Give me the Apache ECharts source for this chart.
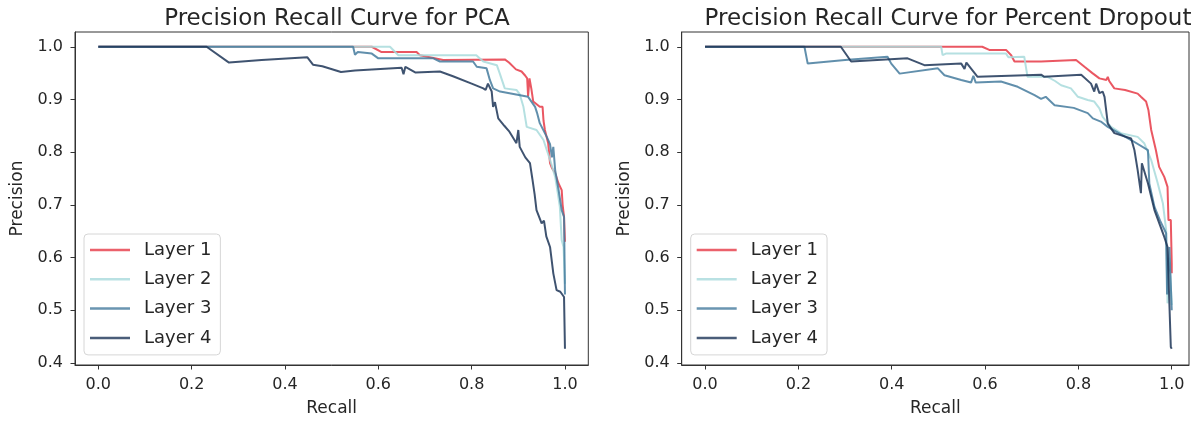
<!DOCTYPE html>
<html>
<head>
<meta charset="utf-8">
<script src="https://cdn.jsdelivr.net/npm/echarts@6.0.0/dist/echarts.min.js"></script>
<style>
  html, body { margin: 0; padding: 0; background: #fff; }
  #chart { width: 1191px; height: 423px; }
</style>
</head>
<body>
<div id="chart"></div>
<script>
  // [recall, precision] pairs
  var pcaLayer1 = [[0, 1], [0.586, 1], [0.607, 0.99], [0.682, 0.99], [0.689, 0.984], [0.70, 0.982], [0.739, 0.975],
    [0.871, 0.976], [0.88, 0.97], [0.895, 0.957], [0.907, 0.953], [0.915, 0.945], [0.919, 0.94], [0.921, 0.906],
    [0.924, 0.94], [0.928, 0.92], [0.932, 0.896], [0.946, 0.886], [0.952, 0.886], [0.954, 0.86], [0.957, 0.842],
    [0.964, 0.817], [0.968, 0.779], [0.972, 0.77], [0.979, 0.76], [0.986, 0.741], [0.993, 0.728], [0.995, 0.70],
    [0.998, 0.677], [1.0, 0.63]
  ]
  var pcaLayer2 = [[0, 1], [0.625, 1], [0.643, 0.984], [0.81, 0.984], [0.825, 0.972], [0.854, 0.965], [0.86, 0.95],
    [0.871, 0.921], [0.896, 0.918], [0.903, 0.91], [0.911, 0.886], [0.918, 0.848], [0.939, 0.842], [0.954, 0.823],
    [0.961, 0.804], [0.97, 0.78], [0.979, 0.753], [0.985, 0.72], [0.989, 0.696], [0.993, 0.633], [0.997, 0.62],
    [1.0, 0.55]
  ]
  var pcaLayer3 = [[0, 1], [0.546, 1], [0.55, 0.985], [0.556, 0.99], [0.586, 0.987], [0.6, 0.978], [0.718, 0.978],
    [0.732, 0.972], [0.803, 0.972], [0.811, 0.962], [0.832, 0.959], [0.839, 0.937], [0.846, 0.921], [0.861, 0.915],
    [0.904, 0.908], [0.921, 0.905], [0.936, 0.886], [0.94, 0.875], [0.946, 0.855], [0.961, 0.829], [0.968, 0.815],
    [0.972, 0.79], [0.975, 0.81], [0.979, 0.766], [0.986, 0.73], [0.993, 0.69], [0.998, 0.677], [1.0, 0.53]
  ]
  var pcaLayer4 = [[0, 1], [0.232, 1], [0.28, 0.97], [0.35, 0.975], [0.448, 0.98], [0.46, 0.966], [0.48, 0.963],
    [0.52, 0.952], [0.55, 0.955], [0.65, 0.96], [0.654, 0.948], [0.658, 0.962], [0.68, 0.951], [0.732, 0.953],
    [0.76, 0.944], [0.8, 0.93], [0.825, 0.921], [0.83, 0.918], [0.835, 0.93], [0.843, 0.915], [0.846, 0.886],
    [0.85, 0.895], [0.857, 0.864], [0.87, 0.85], [0.88, 0.84], [0.896, 0.817], [0.9, 0.842], [0.903, 0.81],
    [0.915, 0.79], [0.925, 0.779], [0.93, 0.75], [0.935, 0.72], [0.939, 0.69], [0.95, 0.665], [0.955, 0.67],
    [0.96, 0.64], [0.968, 0.62], [0.975, 0.57], [0.982, 0.538], [0.99, 0.535], [0.998, 0.525], [1.0, 0.427]
  ]
  var dropLayer1 = [[0, 1], [0.594, 1], [0.609, 0.994], [0.645, 0.994], [0.656, 0.984], [0.663, 0.972], [0.72, 0.972],
    [0.795, 0.975], [0.813, 0.962], [0.83, 0.95], [0.845, 0.94], [0.86, 0.937], [0.863, 0.943], [0.866, 0.935],
    [0.877, 0.921], [0.9, 0.918], [0.927, 0.911], [0.934, 0.905], [0.945, 0.896], [0.95, 0.88], [0.956, 0.842],
    [0.966, 0.804], [0.973, 0.772], [0.984, 0.753], [0.991, 0.734], [0.993, 0.671], [0.998, 0.671], [1.0, 0.589],
    [1.0, 0.57]
  ]
  var dropLayer2 = [[0, 1], [0.506, 1], [0.509, 0.984], [0.516, 0.987], [0.645, 0.987], [0.65, 0.98], [0.684, 0.981],
    [0.691, 0.943], [0.734, 0.943], [0.75, 0.935], [0.763, 0.927], [0.784, 0.921], [0.799, 0.905], [0.82, 0.899],
    [0.834, 0.896], [0.845, 0.883], [0.852, 0.867], [0.87, 0.848], [0.891, 0.836], [0.927, 0.829], [0.941, 0.817],
    [0.956, 0.785], [0.97, 0.741], [0.981, 0.703], [0.988, 0.652], [0.991, 0.513], [0.995, 0.6], [1.0, 0.51]
  ]
  var dropLayer3 = [[0, 1], [0.213, 1], [0.22, 0.968], [0.3, 0.975], [0.391, 0.981], [0.399, 0.968], [0.417, 0.949],
    [0.499, 0.959], [0.513, 0.946], [0.549, 0.937], [0.57, 0.932], [0.575, 0.945], [0.58, 0.932], [0.634, 0.934],
    [0.67, 0.924], [0.706, 0.908], [0.72, 0.901], [0.73, 0.905], [0.749, 0.889], [0.79, 0.884], [0.82, 0.874],
    [0.831, 0.864], [0.848, 0.858], [0.863, 0.848], [0.881, 0.839], [0.913, 0.823], [0.949, 0.804], [0.952, 0.74],
    [0.963, 0.696], [0.975, 0.67], [0.988, 0.646], [0.99, 0.53], [0.995, 0.62], [1.0, 0.5]
  ]
  var dropLayer4 = [[0, 1], [0.291, 1], [0.313, 0.972], [0.434, 0.978], [0.47, 0.965], [0.549, 0.968], [0.556, 0.958],
    [0.56, 0.97], [0.584, 0.943], [0.72, 0.947], [0.727, 0.943], [0.806, 0.947], [0.827, 0.93], [0.834, 0.915],
    [0.838, 0.93], [0.845, 0.912], [0.852, 0.915], [0.856, 0.905], [0.863, 0.854], [0.877, 0.836], [0.913, 0.826],
    [0.92, 0.804], [0.927, 0.766], [0.934, 0.722], [0.936, 0.779], [0.949, 0.741], [0.963, 0.69], [0.984, 0.639],
    [0.991, 0.62], [0.998, 0.43], [1.0, 0.427]
  ]

  var layerNames = ['Layer 1', 'Layer 2', 'Layer 3', 'Layer 4']
  var layerColors = ['#e63946', '#a8dadc', '#457b9d', '#1d3557']
  var xTicks = [0, 0.2, 0.4, 0.6, 0.8, 1.0]
  var yTicks = [0.4, 0.5, 0.6, 0.7, 0.8, 0.9, 1.0]
  var titles = ['Precision Recall Curve for PCA', 'Precision Recall Curve for Percent Dropout']

  var font = 'DejaVu Sans'
  var ink = '#262626'

  function xAxisFor(idx, max) {
    return {
      type: 'value',
      gridIndex: idx,
      min: -0.05,
      max: max,
      name: 'Recall',
      nameLocation: 'middle',
      nameGap: 35,
      nameTextStyle: { fontFamily: font, fontSize: 17, color: ink },
      axisLine: { show: true, onZero: false, lineStyle: { color: '#333', width: 1 } },
      axisTick: { show: true, length: 4.5, customValues: xTicks, lineStyle: { color: '#333' } },
      axisLabel: {
        margin: 12, fontFamily: font, fontSize: 16, color: ink,
        customValues: xTicks,
        formatter: function (v) { return v.toFixed(1) }
      },
      splitLine: { show: false }
    }
  }

  function yAxisFor(idx) {
    return {
      type: 'value',
      gridIndex: idx,
      min: 0.396,
      max: 1.028,
      name: 'Precision',
      nameLocation: 'middle',
      nameGap: 49,
      nameTextStyle: { fontFamily: font, fontSize: 17, color: ink },
      axisLine: { show: true, onZero: false, lineStyle: { color: '#333', width: 1 } },
      axisTick: { show: true, length: 4.5, customValues: yTicks, lineStyle: { color: '#333' } },
      axisLabel: {
        margin: 12, fontFamily: font, fontSize: 16, color: ink,
        customValues: yTicks,
        formatter: function (v) { return v.toFixed(1) }
      },
      splitLine: { show: false }
    }
  }

  function legendFor(left) {
    return {
      orient: 'vertical',
      left: left,
      top: 234,
      data: layerNames,
      icon: 'rect',
      itemWidth: 40,
      itemHeight: 2.5,
      itemGap: 11.3,
      padding: [7, 9, 8, 6],
      backgroundColor: 'rgba(255,255,255,0.8)',
      borderColor: '#d6d6d6',
      borderWidth: 1,
      borderRadius: 4,
      itemStyle: { opacity: 0.8 },
      textStyle: { fontFamily: font, fontSize: 18, color: ink, padding: [0, 0, 0, 9] },
      selectedMode: false
    }
  }

  var seriesData = [
    [pcaLayer1, pcaLayer2, pcaLayer3, pcaLayer4],
    [dropLayer1, dropLayer2, dropLayer3, dropLayer4]
  ]
  var series = []
  seriesData.forEach(function (group, g) {
    group.forEach(function (d, i) {
      series.push({
        name: layerNames[i],
        type: 'line',
        xAxisIndex: g,
        yAxisIndex: g,
        data: d,
        showSymbol: false,
        symbol: 'none',
        z: 2 + i,
        lineStyle: { color: layerColors[i], width: 2, opacity: 0.85 },
        itemStyle: { color: layerColors[i] }
      })
    })
  })

  var chart = echarts.init(document.getElementById('chart'))
  chart.setOption({
    animation: false,
    backgroundColor: '#fff',
    title: [
      { text: titles[0], left: 332, top: 3, textAlign: 'center',
        textStyle: { fontFamily: font, fontSize: 23, fontWeight: 'normal', color: ink } },
      { text: titles[1], left: 943, top: 3, textAlign: 'center',
        textStyle: { fontFamily: font, fontSize: 23, fontWeight: 'normal', color: ink } }
    ],
    legend: [legendFor(84), legendFor(690.7)],
    grid: [
      { left: 75, top: 32, width: 513.3, height: 333, show: true, borderColor: '#333', borderWidth: 1 },
      { left: 681.7, top: 32, width: 507.3, height: 333, show: true, borderColor: '#333', borderWidth: 1 }
    ],
    xAxis: [xAxisFor(0, 1.05), xAxisFor(1, -0.05 + 507.3 / 466.7)],
    yAxis: [yAxisFor(0), yAxisFor(1)],
    series: series
  })
</script>
</body>
</html>
